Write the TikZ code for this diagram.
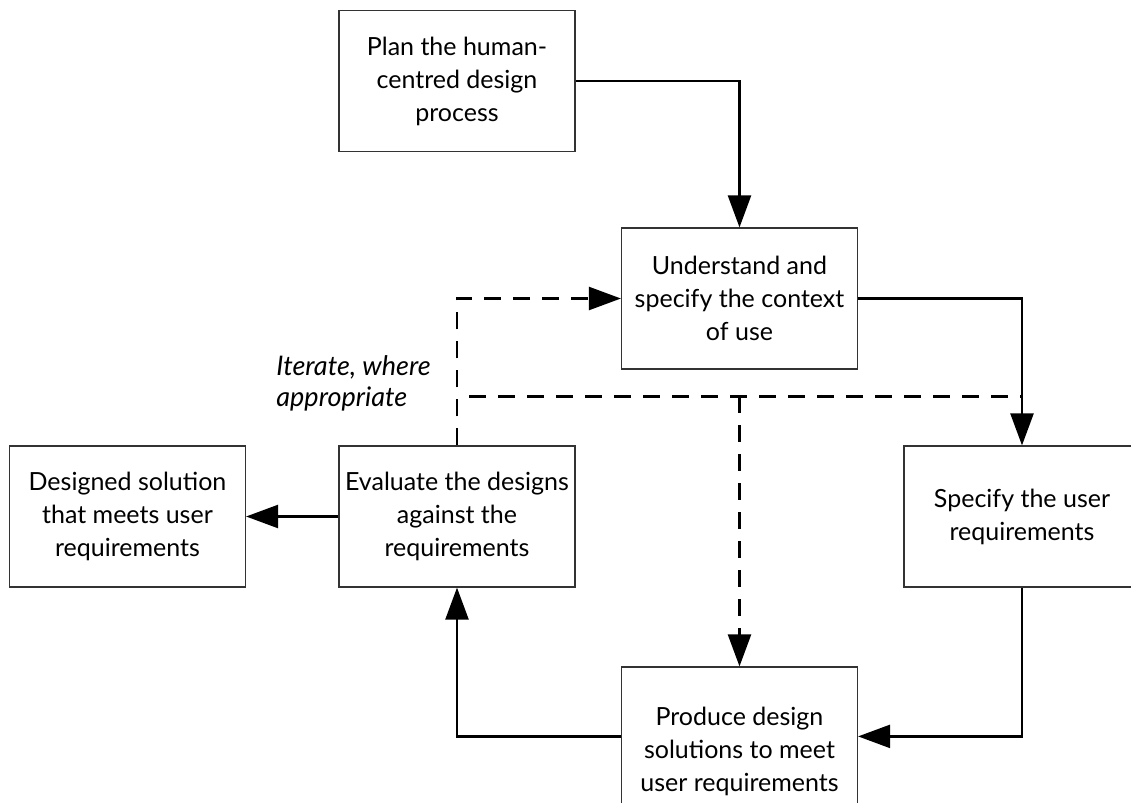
\documentclass[tikz,border=0pt]{standalone}
\usepackage{fontspec}
\setmainfont{Lato}
\usetikzlibrary{arrows.meta,calc}
\begin{document}
\begin{tikzpicture}[x=0.5pt,y=-0.5pt,
  stage/.style={draw=black!80,line width=0.6pt,minimum width=118pt,minimum height=70.5pt,
    align=center,inner sep=2pt,font=\fontsize{12.5}{16.5}\selectfont},
  flow/.style={line width=1.2pt,-{Triangle[length=16pt,width=11.5pt]}},
  loop/.style={line width=1.2pt,dash pattern=on 8.5pt off 6pt},
  looparrow/.style={loop,-{Triangle[length=16pt,width=11.5pt]}}]
\useasboundingbox (0,0) rectangle (1131,803);
\begin{scope}
\clip (0,0) rectangle (1131,803);
\node[stage] (plan) at (457,81) {Plan the human-\\centred design\\process};
\node[stage] (ctx) at (739.5,298.5) {Understand and\\specify the context\\of use};
\node[stage] (done) at (127.5,516.5) {Designed solution\\that meets user\\requirements};
\node[stage] (eval) at (457,516.5) {Evaluate the designs\\against the\\requirements};
\node[stage] (req) at (1022,516.5) {Specify the user\\requirements};
\node[stage,minimum height=84pt] (prod) at (739.5,751) {Produce design\\solutions to meet\\user requirements};
\end{scope}
\node[anchor=north west,align=left,inner sep=0pt,font=\fontsize{13.5}{15.5}\selectfont\itshape] (lbl) at (276,355) {Iterate, where\\appropriate};
% solid process flow
\draw[flow] (plan.east) -| (ctx.north);
\draw[flow] (ctx.east) -| (req.north);
\coordinate (pin) at ($(prod.north east)+(0,70)$);
\coordinate (pout) at ($(prod.north west)+(0,70)$);
\draw[flow] (req.south) |- (pin);
\draw[flow] (pout) -| (eval.south);
\draw[flow] (eval.west) -- (done.east);
% iteration paths
\coordinate (split) at ($(eval.north)+(0,-49)$);
\coordinate (hub) at (split -| ctx.south);
\draw[looparrow] (eval.north) |- (ctx.west);
\draw[loop] ($(split)+(12,0)$) -- (split -| req.north);
\draw[looparrow] (hub) -- (prod.north);
\end{tikzpicture}
\end{document}
